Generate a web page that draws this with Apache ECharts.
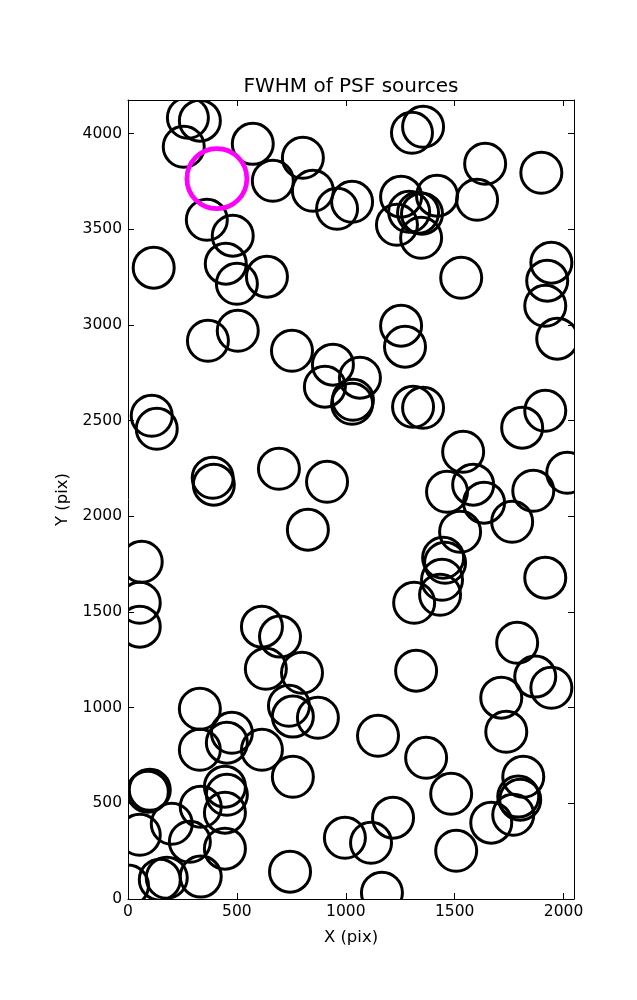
<!DOCTYPE html>
<html>
<head>
<meta charset="utf-8">
<script src="https://cdn.jsdelivr.net/npm/echarts@6/dist/echarts.min.js"></script>
<style>
html,body{margin:0;padding:0;background:#fff;}
#chart{width:637px;height:1000px;}
</style>
</head>
<body>
<div id="chart"></div>
<script>
// PSF source positions (pix)
const sourceX = [275,330,256,573,803,665,849,960,1029,362,481,449,500,638,118,367,504,753,941,1065,904,1033,1029,
  1304,1355,1640,1898,1603,1419,1254,1235,1291,1332,1350,1346,1530,1944,1925,1916,1971,1254,1272,1309,1355,1810,1916,
  1539,1465,1585,1635,1764,1861,2017,914,1525,1447,1456,1442,1433,1314,1916,109,132,389,394,693,826,63,54,54,615,698,
  633,799,739,757,872,330,330,477,454,615,757,91,100,445,454,445,334,201,54,284,445,146,178,334,0,744,996,
  1787,1870,1944,1714,1737,1323,1148,1369,1484,1815,1792,1801,1769,1668,1217,1116,1507,1166];
const sourceY = [4082,4067,3931,3946,3873,3753,3701,3607,3643,3549,3466,3320,3215,3252,3299,2917,2969,2865,2792,2724,2677,2609,2588,
  4004,4035,3842,3795,3654,3675,3670,3523,3591,3586,3581,3455,3246,3325,3231,3100,2928,2996,2886,2572,2567,2463,2551,
  2337,2128,2165,2071,1971,2133,2227,2180,1919,1783,1757,1668,1590,1548,1679,2525,2457,2201,2165,2248,1930,1762,1548,1423,1423,1371,
  1203,1182,1010,953,947,994,780,869,817,780,639,561,571,587,545,451,482,393,336,299,263,101,111,117,70,143,320,
  1339,1162,1104,1052,874,1193,853,738,550,639,535,519,440,399,425,294,252,33];
// highlighted source
const highlightX = [408];
const highlightY = [3764];

const xTicks = [0, 500, 1000, 1500, 2000];
const yTicks = [0, 500, 1000, 1500, 2000, 2500, 3000, 3500, 4000];
const xMax = 2048, yMax = 4175;

const chart = echarts.init(document.getElementById('chart'), null, {renderer: 'canvas'});
const FONT = 'DejaVu Sans';
const G = {left: 128, top: 100, width: 446, height: 799};

function axisCommon(extra) {
  return Object.assign({
    type: 'value',
    splitLine: {show: false},
    axisLine: {show: true, onZero: false, lineStyle: {color: '#000', width: 1}},
    axisTick: {show: true, inside: true, length: 6, lineStyle: {color: '#000', width: 1}},
    z: 100
  }, extra);
}

const option = {
  animation: false,
  backgroundColor: '#fff',
  title: {
    text: 'FWHM of PSF sources',
    left: 346, top: 72, textAlign: 'center', z: 200,
    textStyle: {fontFamily: FONT, fontSize: 20, fontWeight: 'normal', color: '#000'}
  },
  grid: G,
  xAxis: [
    axisCommon({
      position: 'bottom', min: 0, max: xMax, interval: 500,
      name: 'X (pix)', nameLocation: 'middle', nameGap: 30,
      nameTextStyle: {fontFamily: FONT, fontSize: 16.5, color: '#000'},
      axisLabel: {show: true, margin: 5, fontFamily: FONT, fontSize: 15.5, color: '#000', showMaxLabel: false,
        formatter: v => xTicks.indexOf(v) >= 0 ? String(v) : ''}
    }),
    axisCommon({position: 'top', min: 0, max: xMax, interval: 500, axisLabel: {show: false}})
  ],
  yAxis: [
    axisCommon({
      position: 'left', min: 0, max: yMax, interval: 500,
      name: 'Y (pix)', nameLocation: 'middle', nameGap: 57, nameRotate: 90,
      nameTextStyle: {fontFamily: FONT, fontSize: 16.5, color: '#000'},
      axisLabel: {show: true, margin: 6, fontFamily: FONT, fontSize: 15.5, color: '#000', showMaxLabel: false,
        formatter: v => yTicks.indexOf(v) >= 0 ? String(v) : ''}
    }),
    axisCommon({position: 'right', min: 0, max: yMax, interval: 500, axisLabel: {show: false}})
  ],
  graphic: [
    {type: 'rect', z: 50, silent: true, shape: {x: 0, y: 0, width: G.left, height: 1000}, style: {fill: '#fff'}},
    {type: 'rect', z: 50, silent: true, shape: {x: G.left + G.width, y: 0, width: 637 - G.left - G.width, height: 1000}, style: {fill: '#fff'}},
    {type: 'rect', z: 50, silent: true, shape: {x: 0, y: 0, width: 637, height: G.top}, style: {fill: '#fff'}},
    {type: 'rect', z: 50, silent: true, shape: {x: 0, y: G.top + G.height, width: 637, height: 1000 - G.top - G.height}, style: {fill: '#fff'}}
  ],
  series: [
    {
      type: 'scatter', clip: false, z: 2,
      symbol: 'circle', symbolSize: 41,
      itemStyle: {color: 'rgba(0,0,0,0)', borderColor: '#000', borderWidth: 3, opacity: 1},
      emphasis: {disabled: true},
      data: sourceX.map((x, i) => [x, sourceY[i]])
    },
    {
      type: 'scatter', clip: false, z: 3,
      symbol: 'circle', symbolSize: 60,
      itemStyle: {color: 'rgba(0,0,0,0)', borderColor: '#ff00ff', borderWidth: 4.7, opacity: 1},
      emphasis: {disabled: true},
      data: highlightX.map((x, i) => [x, highlightY[i]])
    }
  ]
};
chart.setOption(option);
</script>
</body>
</html>
